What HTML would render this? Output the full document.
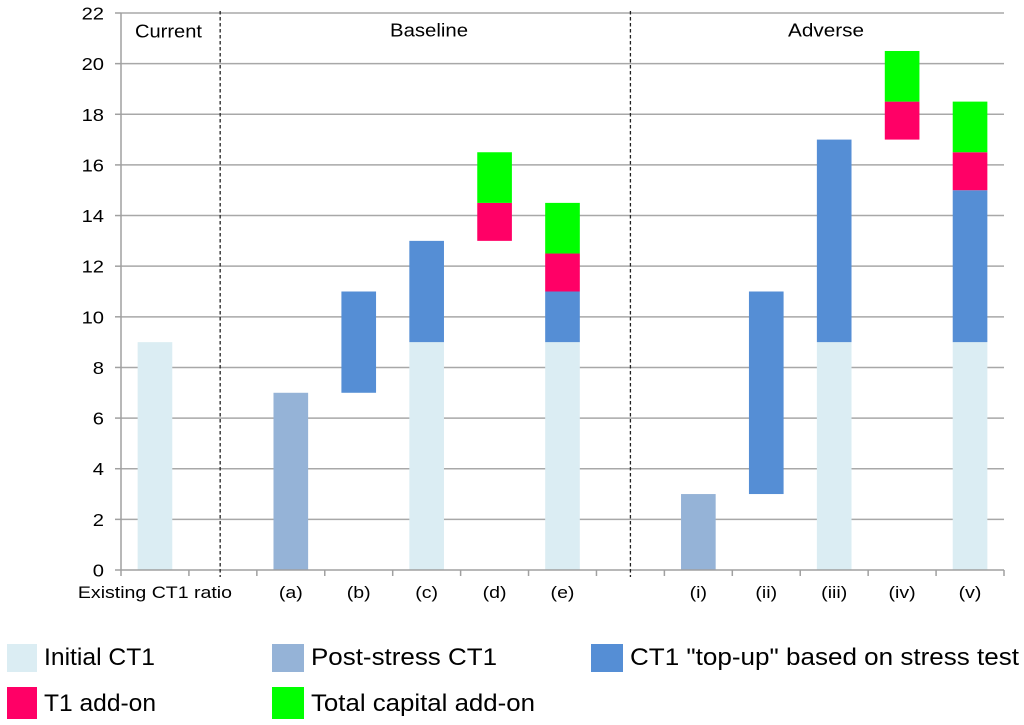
<!DOCTYPE html>
<html lang="en">
<head>
<meta charset="utf-8">
<title>Capital ratios chart</title>
<style>
html,body{margin:0;padding:0;background:#fff;width:1024px;height:725px;overflow:hidden}
svg{display:block;font-family:"Liberation Sans",sans-serif;fill:#000;filter:blur(0.35px)}
</style>
</head>
<body>
<svg id="chart" xmlns="http://www.w3.org/2000/svg" width="1024" height="725" viewBox="0 0 1024 725">
  <rect x="0" y="0" width="1024" height="725" fill="#fff"/>
  <g id="grid"></g>
  <g id="bars"></g>
  <g id="axes"></g>
  <g id="dividers"></g>
  <g font-size="18">
    <text x="135" y="37.5" textLength="67" lengthAdjust="spacingAndGlyphs">Current</text>
    <text x="390" y="36.5" textLength="78" lengthAdjust="spacingAndGlyphs">Baseline</text>
    <text x="788" y="36.5" textLength="76" lengthAdjust="spacingAndGlyphs">Adverse</text>
  </g>
  <g font-size="24">
    <g>
      <rect x="7" y="644" width="30" height="28" fill="#dbedf3"/>
      <text x="44" y="665" textLength="111" lengthAdjust="spacingAndGlyphs">Initial CT1</text>
    </g>
    <g>
      <rect x="272" y="644" width="32" height="28" fill="#95b3d7"/>
      <text x="311" y="665" textLength="186" lengthAdjust="spacingAndGlyphs">Post-stress CT1</text>
    </g>
    <g>
      <rect x="591" y="644" width="32" height="28" fill="#558ed5"/>
      <text x="630" y="665" textLength="389" lengthAdjust="spacingAndGlyphs">CT1 "top-up" based on stress test</text>
    </g>
    <g>
      <rect x="7" y="687" width="30" height="32" fill="#ff0066"/>
      <text x="44" y="711" textLength="112" lengthAdjust="spacingAndGlyphs">T1 add-on</text>
    </g>
    <g>
      <rect x="272" y="687" width="32" height="32" fill="#00ff00"/>
      <text x="311" y="711" textLength="224" lengthAdjust="spacingAndGlyphs">Total capital add-on</text>
    </g>
  </g>
</svg>
<script>
const categories = ['Existing CT1 ratio', '', '(a)', '(b)', '(c)', '(d)', '(e)', '', '(i)', '(ii)', '(iii)', '(iv)', '(v)'];
const yTickLabels = [0, 2, 4, 6, 8, 10, 12, 14, 16, 18, 20, 22];
const gapValues = [0, 0, 0, 7, 0, 13, 0, 0, 0, 3, 0, 17, 0];
const initialCt1Values = [9, 0, 0, 0, 9, 0, 9, 0, 0, 0, 9, 0, 9];
const postStressValues = [0, 0, 7, 0, 0, 0, 0, 0, 3, 0, 0, 0, 0];
const topUpValues = [0, 0, 0, 4, 4, 0, 2, 0, 0, 8, 8, 0, 6];
const t1AddOnValues = [0, 0, 0, 0, 0, 1.5, 1.5, 0, 0, 0, 0, 1.5, 1.5];
const totalAddOnValues = [0, 0, 0, 0, 0, 2, 2, 0, 0, 0, 0, 2, 2];
const dividerPositions = [1.46, 7.5];

const NS = 'http://www.w3.org/2000/svg';
const plotLeft = 121, plotRight = 1004, plotTop = 13, plotBottom = 570;
const yMax = 22;
const bandWidth = (plotRight - plotLeft) / categories.length;
const barWidth = bandWidth * 0.51;
function xBand(i) { return plotLeft + i * bandWidth; }
function yScale(v) { return plotBottom - (v / yMax) * (plotBottom - plotTop); }
function make(tag, parent) {
  const el = document.createElementNS(NS, tag);
  parent.appendChild(el);
  return el;
}
const gridGroup = document.getElementById('grid');
const axesGroup = document.getElementById('axes');
const barsGroup = document.getElementById('bars');
const dividerGroup = document.getElementById('dividers');

yTickLabels.forEach(function (v) {
  const y = yScale(v);
  if (v > 0) {
    const g = make('line', gridGroup);
    
    
    g.setAttribute('x1', plotLeft);
    g.setAttribute('x2', plotRight);
    g.setAttribute('y1', y);
    g.setAttribute('y2', y);
    g.setAttribute('stroke', '#a8a8a8');
    g.setAttribute('stroke-width', '1.5');
  }
  const t = make('line', axesGroup);
  
  
  t.setAttribute('x1', plotLeft - 6);
  t.setAttribute('x2', plotLeft);
  t.setAttribute('y1', y);
  t.setAttribute('y2', y);
  t.setAttribute('stroke', '#a0a0a0');
  t.setAttribute('stroke-width', '1.5');
  const lab = make('text', axesGroup);
  
  
  lab.setAttribute('transform', 'translate(104,' + (y + 6.5) + ') scale(1.12,1)');
  lab.setAttribute('text-anchor', 'end');
  lab.setAttribute('font-size', '18');
  lab.textContent = v;
});

const stackSeries = [
  { name: 'gap', values: gapValues, color: 'none' },
  { name: 'initial-ct1', values: initialCt1Values, color: '#dbedf3' },
  { name: 'post-stress-ct1', values: postStressValues, color: '#95b3d7' },
  { name: 'ct1-top-up', values: topUpValues, color: '#558ed5' },
  { name: 't1-add-on', values: t1AddOnValues, color: '#ff0066' },
  { name: 'total-capital-add-on', values: totalAddOnValues, color: '#00ff00' }
];
categories.forEach(function (cat, i) {
  let acc = 0;
  stackSeries.forEach(function (s) {
    const v = s.values[i];
    if (v > 0 && s.color !== 'none') {
      const r = make('rect', barsGroup);
      
      
      r.setAttribute('x', xBand(i) + (bandWidth - barWidth) / 2);
      r.setAttribute('width', barWidth);
      r.setAttribute('y', yScale(acc + v));
      r.setAttribute('height', yScale(acc) - yScale(acc + v));
      r.setAttribute('fill', s.color);
    }
    acc += v;
  });
  if (cat) {
    const lab = make('text', axesGroup);
    
    
    lab.setAttribute('transform', 'translate(' + (xBand(i) + bandWidth / 2) + ',598) scale(1.15,1)');
    lab.setAttribute('text-anchor', 'middle');
    lab.setAttribute('font-size', '17');
    lab.textContent = cat;
  }
});

for (let i = 0; i <= categories.length; i++) {
  const t = make('line', axesGroup);
  
  
  t.setAttribute('x1', xBand(i));
  t.setAttribute('x2', xBand(i));
  t.setAttribute('y1', plotBottom);
  t.setAttribute('y2', plotBottom + 6);
  t.setAttribute('stroke', '#a0a0a0');
  t.setAttribute('stroke-width', '1.5');
}

const yAxis = make('line', axesGroup);


yAxis.setAttribute('x1', plotLeft);
yAxis.setAttribute('x2', plotLeft);
yAxis.setAttribute('y1', plotTop);
yAxis.setAttribute('y2', plotBottom);
yAxis.setAttribute('stroke', '#a0a0a0');
yAxis.setAttribute('stroke-width', '1.5');

const xAxis = make('line', axesGroup);


xAxis.setAttribute('x1', plotLeft);
xAxis.setAttribute('x2', plotRight);
xAxis.setAttribute('y1', plotBottom);
xAxis.setAttribute('y2', plotBottom);
xAxis.setAttribute('stroke', '#a0a0a0');
xAxis.setAttribute('stroke-width', '1.5');

dividerPositions.forEach(function (p) {
  const d = make('line', dividerGroup);
  
  
  d.setAttribute('x1', xBand(p));
  d.setAttribute('x2', xBand(p));
  d.setAttribute('y1', 11);
  d.setAttribute('y2', 577);
  d.setAttribute('stroke', '#222');
  d.setAttribute('stroke-width', '1.3');
  d.setAttribute('stroke-dasharray', '3.5 2.5');
});
</script>
</body>
</html>
